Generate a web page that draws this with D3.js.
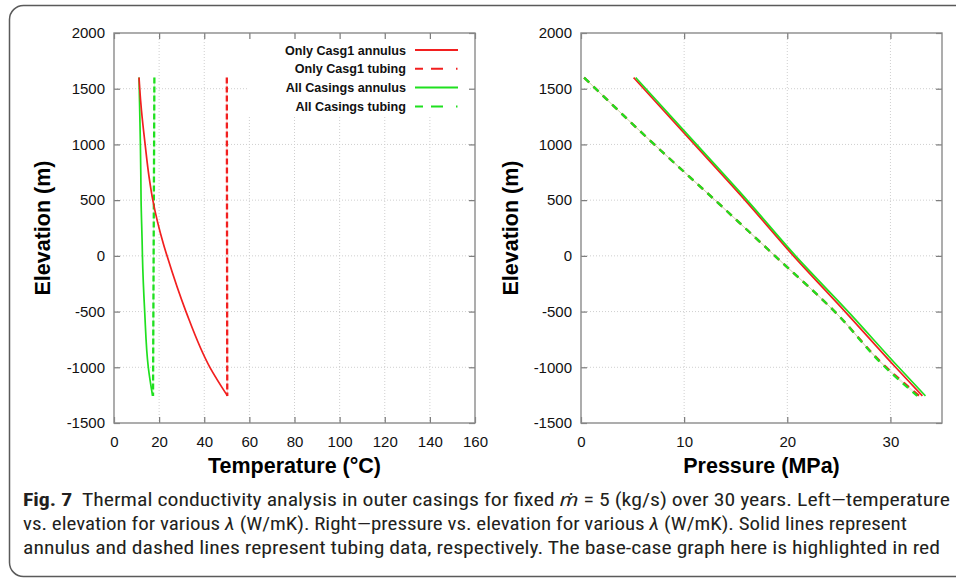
<!DOCTYPE html>
<html>
<head>
<meta charset="utf-8">
<script src="https://cdn.jsdelivr.net/npm/d3@7"></script>
<style>
  html, body { margin: 0; padding: 0; background: #fff; }
  svg { display: block; }
</style>
</head>
<body>
<svg id="fig" width="956" height="579"></svg>
<script>
// elevation (m) samples
var annulusElev = [1600, 1500, 1300, 1000, 700, 500, 100, 0, -500, -1000, -1257];
var tubingElev = [1600, -1257];
var pressElev = [1600, 1000, 500, 0, -500, -1000, -1257];

// left panel, temperature (C)
var casg1AnnulusT = [11.1, 11.4, 12.2, 13.8, 15.6, 17.2, 22.0, 23.5, 31.9, 42.5, 50.3];
var allAnnulusT = [11.1, 11.2, 11.4, 11.7, 11.9, 12.0, 12.5, 12.6, 13.6, 15.2, 17.1];
var casg1TubingT = [50.0, 50.2];
var allTubingT = [17.9, 17.3];

// right panel, pressure (MPa)
var casg1AnnulusP = [5.1, 11.0, 15.9, 20.6, 25.6, 30.5, 33.1];
var allAnnulusP = [5.3, 11.2, 16.1, 20.8, 25.9, 30.8, 33.4];
var casg1TubingP = [0.3, 7.1, 13.0, 18.8, 24.6, 29.6, 32.8];
var allTubingP = [0.3, 7.1, 13.0, 18.8, 24.6, 29.5, 32.6];

var elevTicks = [-1500, -1000, -500, 0, 500, 1000, 1500, 2000];
var tempTicks = [0, 20, 40, 60, 80, 100, 120, 140, 160];
var pressTicks = [0, 10, 20, 30];

var legendLabels = ['Only Casg1 annulus', 'Only Casg1 tubing', 'All Casings annulus', 'All Casings tubing'];

var RED = '#f21f1f', GREEN = '#1fe01f';

var svg = d3.select('#fig');

// outer card frame (runs off the right edge like the source)
svg.append('rect')
    .attr('x', 9.5).attr('y', 5.5)
    .attr('width', 980).attr('height', 571)
    .attr('rx', 14)
    .attr('fill', 'none').attr('stroke', '#5a5a5a').attr('stroke-width', 1.5);

var y = d3.scaleLinear().domain([-1500, 2000]).range([423, 33]);
var plain = function(d) { return String(d); };   // gnuplot style: no commas, ascii minus

function zip(xs, ys) {
    return xs.map(function(v, i) { return [v, ys[i]]; });
}

function drawPanel(p) {
    var x = d3.scaleLinear().domain(p.xDomain).range(p.xRange);
    var g = svg.append('g');
    var x0 = p.xRange[0], x1 = p.xRange[1], y0 = y.range()[1], y1 = y.range()[0];

    // dotted grid
    var grid = g.append('g').attr('stroke', '#cfcfcf').attr('stroke-dasharray', '1,2').attr('stroke-width', 1);
    p.xTicks.forEach(function(t) {
        if (x(t) <= x0 + 1 || x(t) >= x1 - 1) return;
        grid.append('line').attr('x1', x(t)).attr('x2', x(t)).attr('y1', y0).attr('y2', y1);
    });
    elevTicks.forEach(function(t) {
        if (y(t) <= y0 + 1 || y(t) >= y1 - 1) return;
        grid.append('line').attr('x1', x0).attr('x2', x1).attr('y1', y(t)).attr('y2', y(t));
    });

    if (p.legend) {
        g.append('rect').attr('x', 247).attr('y', 34).attr('width', x1 - 248).attr('height', 81).attr('fill', '#fff');
    }

    // axes with inward ticks on all four sides
    function style(ax) {
        ax.select('.domain').remove();
        ax.selectAll('.tick line').attr('stroke', '#7a7a7a').attr('stroke-width', 1.2);
        ax.selectAll('.tick text').attr('fill', '#111')
            .style('font-family', '"Liberation Sans", Arial, sans-serif').style('font-size', '15px');
    }
    g.append('g').attr('transform', 'translate(' + x0 + ',0)')
        .call(d3.axisLeft(y).tickValues(elevTicks).tickFormat(plain).tickSizeInner(-6).tickSizeOuter(0).tickPadding(9))
        .call(style);
    g.append('g').attr('transform', 'translate(' + x1 + ',0)')
        .call(d3.axisRight(y).tickValues(elevTicks).tickSizeInner(-6).tickSizeOuter(0).tickFormat(''))
        .call(style);
    g.append('g').attr('transform', 'translate(0,' + y1 + ')')
        .call(d3.axisBottom(x).tickValues(p.xTicks).tickFormat(plain).tickSizeInner(-6).tickSizeOuter(0).tickPadding(13))
        .call(style);
    g.append('g').attr('transform', 'translate(0,' + y0 + ')')
        .call(d3.axisTop(x).tickValues(p.xTicks).tickSizeInner(-6).tickSizeOuter(0).tickFormat(''))
        .call(style);

    g.append('rect').attr('x', x0).attr('y', y0).attr('width', x1 - x0).attr('height', y1 - y0)
        .attr('fill', 'none').attr('stroke', '#8a8a8a').attr('stroke-width', 1.4);

    // titles
    var titleFont = '"Liberation Sans", Arial, sans-serif';
    g.append('text')
        .attr('transform', 'translate(' + p.yTitleX + ',' + ((y0 + y1) / 2) + ') rotate(-90)')
        .attr('text-anchor', 'middle')
        .style('font-family', titleFont).style('font-weight', 'bold').style('font-size', '21.5px')
        .text('Elevation (m)');
    g.append('text')
        .attr('x', (x0 + x1) / 2).attr('y', 473)
        .attr('text-anchor', 'middle')
        .style('font-family', titleFont).style('font-weight', 'bold').style('font-size', '21.5px')
        .text(p.xTitle);

    var line = d3.line().curve(d3.curveMonotoneY)
        .x(function(d) { return x(d[0]); }).y(function(d) { return y(d[1]); });
    p.series.forEach(function(s) {
        if (s.dash) {
            // faint connecting trace under the dashes
            g.append('path').datum(s.data).attr('d', line)
                .attr('fill', 'none').attr('stroke', s.color).attr('stroke-opacity', 0.22).attr('stroke-width', 1);
        }
        g.append('path').datum(s.data).attr('d', line)
            .attr('fill', 'none').attr('stroke', s.color).attr('stroke-width', s.dash ? 2.3 : 1.7)
            .attr('stroke-dasharray', s.dash || null);
    });

    if (p.legend) {
        var rows = [
            { label: legendLabels[0], color: RED, dash: null },
            { label: legendLabels[1], color: RED, dash: '8,8,12,13,1.5' },
            { label: legendLabels[2], color: GREEN, dash: null },
            { label: legendLabels[3], color: GREEN, dash: '8,8,12,13,1.5' }
        ];
        var lg = g.append('g');
        rows.forEach(function(r, i) {
            var cy = 50 + i * 18.8;
            lg.append('text').attr('x', 406).attr('y', cy).attr('dy', '0.36em')
                .attr('text-anchor', 'end').attr('fill', '#111')
                .style('font-family', titleFont).style('font-weight', 'bold').style('font-size', '12.6px')
                .text(r.label);
            lg.append('line').attr('x1', 415).attr('x2', 458).attr('y1', cy).attr('y2', cy)
                .attr('stroke', r.color).attr('stroke-width', 2)
                .attr('stroke-dasharray', r.dash);
        });
    }
}

drawPanel({
    xDomain: [0, 160], xRange: [114, 475], xTicks: tempTicks,
    xTitle: 'Temperature (\u00b0C)', yTitleX: 50, legend: true,
    series: [
        { data: zip(allAnnulusT, annulusElev), color: GREEN },
        { data: zip(allTubingT, tubingElev), color: GREEN, dash: '6,3' },
        { data: zip(casg1AnnulusT, annulusElev), color: RED },
        { data: zip(casg1TubingT, tubingElev), color: RED, dash: '6,3' }
    ]
});

drawPanel({
    xDomain: [0, 35], xRange: [581, 942], xTicks: pressTicks,
    xTitle: 'Pressure (MPa)', yTitleX: 518, legend: false,
    series: [
        { data: zip(casg1TubingP, pressElev), color: RED, dash: '7,6' },
        { data: zip(allTubingP, pressElev), color: GREEN, dash: '7,6' },
        { data: zip(casg1AnnulusP, pressElev), color: RED },
        { data: zip(allAnnulusP, pressElev), color: GREEN }
    ]
});

// caption
var capFont = '"Liberation Sans Narrow", "Roboto Condensed", Roboto, "Noto Sans", sans-serif';
var cap = svg.append('g').style('font-family', capFont).style('font-size', '17.5px').attr('fill', '#231f20');

var l1 = cap.append('text').attr('x', 23).attr('y', 506)
    .attr('textLength', 927).attr('lengthAdjust', 'spacingAndGlyphs');
l1.append('tspan').style('font-weight', 'bold').text('Fig. 7');
l1.append('tspan').text('\u2002Thermal conductivity analysis in outer casings for fixed ');
l1.append('tspan').style('font-style', 'italic').text('\u1e41');
l1.append('tspan').text(' = 5 (kg/s) over 30 years. Left\u2014temperature');

var l2 = cap.append('text').attr('x', 23).attr('y', 530)
    .attr('textLength', 884).attr('lengthAdjust', 'spacingAndGlyphs');
l2.append('tspan').text('vs. elevation for various ');
l2.append('tspan').style('font-style', 'italic').text('\u03bb');
l2.append('tspan').text(' (W/mK). Right\u2014pressure vs. elevation for various ');
l2.append('tspan').style('font-style', 'italic').text('\u03bb');
l2.append('tspan').text(' (W/mK). Solid lines represent');

cap.append('text').attr('x', 23).attr('y', 554)
    .attr('textLength', 917).attr('lengthAdjust', 'spacingAndGlyphs')
    .text('annulus and dashed lines represent tubing data, respectively. The base-case graph here is highlighted in red');
</script>
</body>
</html>
